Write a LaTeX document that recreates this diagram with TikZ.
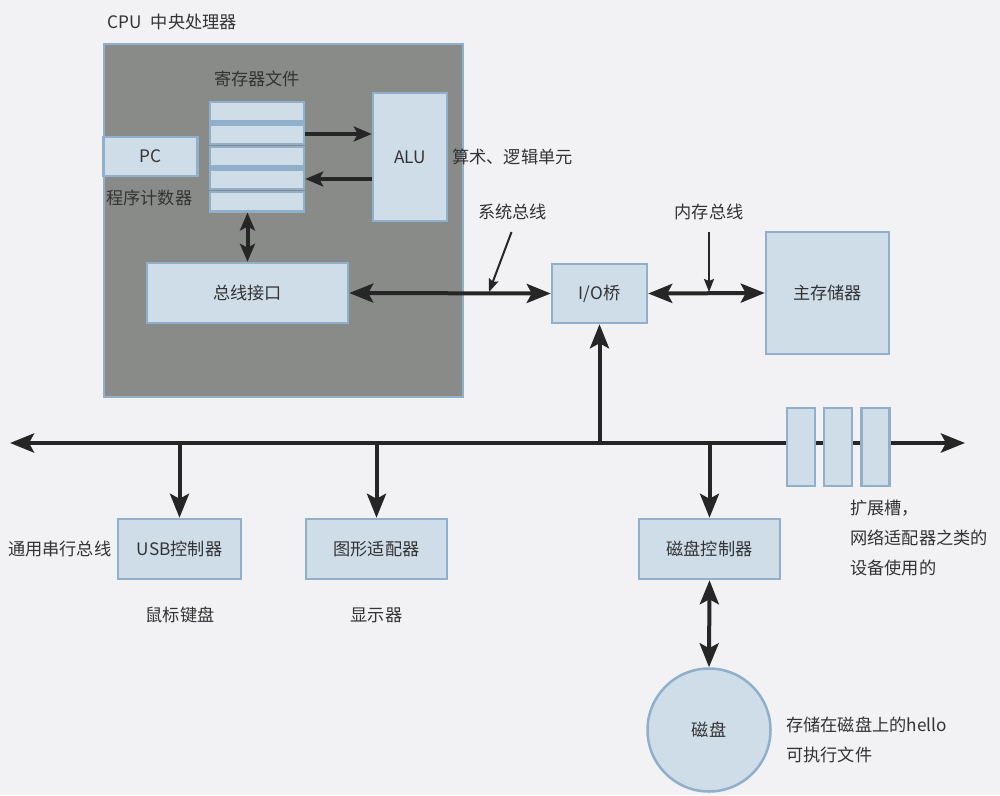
\documentclass[tikz,border=0pt]{standalone}
\usepackage{fontspec}
\newfontfamily\cjk{Noto Sans CJK SC}
\usetikzlibrary{arrows.meta}
\definecolor{bg}{HTML}{F2F2F4}
\definecolor{boxfill}{HTML}{CFDDE9}
\definecolor{boxline}{HTML}{8FAFCA}
\definecolor{cpufill}{HTML}{898B89}
\definecolor{ink}{HTML}{262626}
\definecolor{txt}{HTML}{333333}
\begin{document}
\begin{tikzpicture}[x=1pt,y=-1pt,
  every node/.style={font=\cjk\fontsize{17.2}{20}\selectfont, text=txt},
  box/.style={draw=boxline, fill=boxfill, line width=2.5pt, inner sep=0pt},
  lbl/.style={inner sep=0pt},
  lbll/.style={inner sep=0pt, anchor=west},
  big/.style={draw=ink, line width=4pt, >={Stealth[length=24pt,width=19pt,inset=5pt]}},
  short/.style={draw=ink, line width=4pt, >={Stealth[length=18pt,width=15pt,inset=4pt]}},
  thin/.style={draw=ink, line width=2pt, >={Stealth[length=13pt,width=10pt,inset=2pt]}}]
\fill[bg] (0,0) rectangle (1000,795);
\useasboundingbox (0,0) rectangle (1000,795);

% CPU
\node[box, fill=cpufill, minimum width=359pt, minimum height=353pt] (cpu) at (283.5,220.5) {};
\node[lbll] (cpulabel) at (107,22) {CPU\hspace{0.55em}中央处理器};

% register file
\node[box, minimum width=94pt, minimum height=19.5pt] (r1) at (257,111.5) {};
\node[box, minimum width=94pt, minimum height=19.5pt] (r2) at (257,134) {};
\node[box, minimum width=94pt, minimum height=19.5pt] (r3) at (257,156.5) {};
\node[box, minimum width=94pt, minimum height=19.5pt] (r4) at (257,179) {};
\node[box, minimum width=94pt, minimum height=19.5pt] (r5) at (257,201.5) {};
\node[lbl] (reglabel) at (257,79) {寄存器文件};

\node[box, minimum width=74pt, minimum height=128pt] (alu) at (410,157) {ALU};
\node[lbll] (alulabel) at (452,157) {算术、逻辑单元};

\node[box, minimum width=94pt, minimum height=39pt] (pc) at (150.5,156.5) {PC};
\node[lbll] (pclabel) at (106,198) {程序计数器};

\node[box, minimum width=201pt, minimum height=60pt] (busif) at (247.5,293) {总线接口};

\node[box, minimum width=95pt, minimum height=59pt] (iob) at (599.5,293.5) {I/O桥};
\node[box, minimum width=123pt, minimum height=122pt] (mem) at (827.5,293) {主存储器};

\node[lbl] (syslabel) at (512.5,212) {系统总线};
\node[lbl] (memlabel) at (709,212) {内存总线};

% main bus
\coordinate (busL) at (10,443);
\coordinate (busR) at (965,443);
\draw[big, line width=4.5pt, <->] (busL) -- (busR);

\node[box, minimum width=28pt, minimum height=78pt] (s1) at (801,447) {};
\node[box, minimum width=28pt, minimum height=78pt] (s2) at (838,447) {};
\node[box, minimum width=28pt, minimum height=78pt] (s3) at (875.5,447) {};
\node[lbll] (slotl1) at (850,508) {扩展槽，};
\node[lbll] (slotl2) at (850,538) {网络适配器之类的};
\node[lbll] (slotl3) at (850,568) {设备使用的};

\node[box, minimum width=123pt, minimum height=60pt] (usb) at (179.5,549) {USB控制器};
\node[box, minimum width=141pt, minimum height=60pt] (gfx) at (376.5,549) {图形适配器};
\node[box, minimum width=141pt, minimum height=60pt] (diskc) at (709.5,549) {磁盘控制器};
\node[box, circle, minimum size=123pt] (disk) at (709,730) {磁盘};

\node[lbll] (usbl) at (8,549) {通用串行总线};
\node[lbl] (kbd) at (180,615) {鼠标键盘};
\node[lbl] (disp) at (376.5,615) {显示器};
\node[lbll] (hello1) at (786,725) {存储在磁盘上的hello};
\node[lbll] (hello2) at (786,755) {可执行文件};

% connectors
\draw[short, ->] (r2.east) -- (r2.east -| alu.west);
\draw[short, ->] (r4.east -| alu.west) -- (r4.east);
\draw[short, <->] (busif.north |- r5.south) -- (busif.north);
\draw[big, <->] (busif.east) -- (iob.west);
\draw[big, <->] (iob.east) -- (mem.west);
\draw[big, ->] (iob.south |- busL) -- (iob.south);
\draw[big, ->] (usb.north |- busL) -- (usb.north);
\draw[big, ->] (gfx.north |- busL) -- (gfx.north);
\draw[big, ->] (diskc.north |- busL) -- (diskc.north);
\draw[big, <->] (diskc.south) -- (disk.north);

\coordinate (sysA) at (511.5,232);
\coordinate (sysB) at (489,292);
\draw[thin, ->] (sysA) -- (sysB);
\coordinate (memA) at (709,232);
\coordinate (memB) at (709,292);
\draw[thin, ->] (memA) -- (memB);
\end{tikzpicture}
\end{document}
